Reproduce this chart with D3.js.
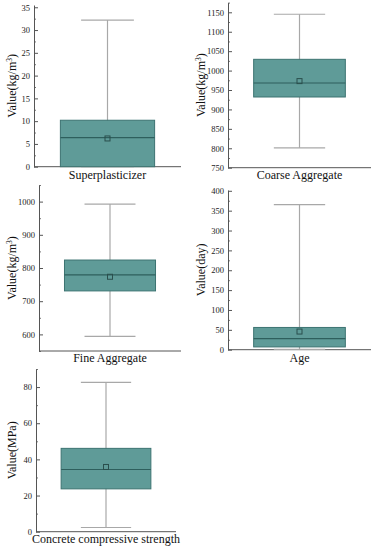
<!DOCTYPE html>
<html>
<head>
<meta charset="utf-8">
<script src="https://cdn.jsdelivr.net/npm/d3@7"></script>
<style>
  body{margin:0;background:#fff;}
  svg text{font-family:"Liberation Serif","Times New Roman",Tinos,"DejaVu Serif",serif !important;}
  .tick text{font-size:8.5px;fill:#222;}
  .catlab{font-size:12px;fill:#111;}
  .ylab{font-size:12px;fill:#111;}
</style>
</head>
<body>
<svg id="chart" width="378" height="550"></svg>
<script>
// data
var categories = ["Superplasticizer","Coarse Aggregate","Fine Aggregate","Age","Concrete compressive strength"]
var units      = ["kg/m","kg/m","kg/m","day","MPa"]
var mins       = [0, 801, 594, 1, 2.33]
var q1s        = [0, 932, 731, 7, 23.7]
var medians    = [6.4, 968, 779.5, 28, 34.4]
var q3s        = [10.2, 1029, 824, 56, 46.1]
var maxs       = [32.2, 1145, 992.6, 365, 82.6]
var means      = [6.2, 972.9, 773.6, 45.7, 35.8]
var yDomains   = [[0,35.5],[750,1175],[550,1050],[0,402],[0,90]]
var majorTicks = [[0,5,10,15,20,25,30,35],[750,800,850,900,950,1000,1050,1100,1150],[600,700,800,900,1000],[0,50,100,150,200,250,300,350,400],[0,20,40,60,80]]
var minorStep  = [2.5,25,50,25,10]

// panel frames in pixels: left, right, top, bottom of the axes
var frames = [
  {l:34, r:181, t:5,   b:166.7, ylx:16,  cy:179},
  {l:228,r:371, t:2.6, b:167.7, ylx:205, cy:179},
  {l:39, r:181, t:185, b:351,   ylx:16,  cy:362},
  {l:228,r:371, t:190, b:349.7, ylx:205, cy:362},
  {l:36, r:176, t:369, b:531.7, ylx:16,  cy:543}
]

var svg = d3.select("#chart")

for (var i=0;i<categories.length;i++){
    var f = frames[i]
    var g = svg.append("g")

    var x = d3.scaleBand().domain([categories[i]]).range([f.l,f.r]).paddingInner(0).paddingOuter(0.28)
    var y = d3.scaleLinear().domain(yDomains[i]).range([f.b,f.t])

    // minor ticks (inward)
    var dom = yDomains[i], minors = []
    for (var v=dom[0]; v<=dom[1]+1e-9; v+=minorStep[i]){
        if (majorTicks[i].indexOf(+v.toFixed(4))<0) minors.push(v)
    }
    g.append("g")
        .attr("transform","translate("+f.l+",0)")
        .call(d3.axisLeft(y).tickValues(minors).tickSize(-2).tickFormat(""))
        .call(function(a){a.select(".domain").remove(); a.selectAll("line").attr("stroke","#777")})

    var ax = g.append("g")
        .attr("transform","translate("+f.l+",0)")
        .call(d3.axisLeft(y).tickValues(majorTicks[i]).tickSize(-4).tickPadding(4).tickSizeOuter(0).tickFormat(d3.format("d")))
    ax.select(".domain").attr("stroke","#555")
    ax.selectAll(".tick line").attr("stroke","#555")

    // bottom axis line
    g.append("line")
        .attr("x1",f.l).attr("x2",f.r)
        .attr("y1",f.b).attr("y2",f.b)
        .attr("stroke","#555")

    var cx = x(categories[i]) + x.bandwidth()/2
    var bw = x.bandwidth()
    var cw = bw*0.56

    // whiskers
    g.append("line")
        .attr("x1",cx).attr("x2",cx)
        .attr("y1",y(maxs[i])).attr("y2",y(mins[i]))
        .attr("stroke","#a8a8a8").attr("stroke-width",1.2)
    ;[mins[i],maxs[i]].forEach(function(d){
        g.append("line")
            .attr("x1",cx-cw/2).attr("x2",cx+cw/2)
            .attr("y1",y(d)).attr("y2",y(d))
            .attr("stroke","#a8a8a8").attr("stroke-width",1.2)
    })

    // box
    g.append("rect")
        .attr("x",x(categories[i]))
        .attr("y",y(q3s[i]))
        .attr("width",bw)
        .attr("height",y(q1s[i])-y(q3s[i]))
        .attr("fill","#5f9b98")
        .attr("stroke","#3c7371")
        .attr("stroke-width",1)

    // median
    g.append("line")
        .attr("x1",x(categories[i])).attr("x2",x(categories[i])+bw)
        .attr("y1",y(medians[i])).attr("y2",y(medians[i]))
        .attr("stroke","#2e5f5d").attr("stroke-width",1.2)

    // mean marker
    g.append("rect")
        .attr("x",cx-2.5).attr("y",y(means[i])-2.5)
        .attr("width",5).attr("height",5)
        .attr("fill","none")
        .attr("stroke","#2a4f4d").attr("stroke-width",1)

    // category label
    g.append("text")
        .attr("class","catlab")
        .attr("x",(f.l+f.r)/2)
        .attr("y",f.cy)
        .attr("text-anchor","middle")
        .text(categories[i])

    // y label
    var yl = g.append("text")
        .attr("class","ylab")
        .attr("transform","translate("+f.ylx+","+((f.t+f.b)/2)+") rotate(-90)")
        .attr("text-anchor","middle")
    if (units[i]=="kg/m"){
        yl.append("tspan").text("Value(kg/m")
        yl.append("tspan").attr("baseline-shift","super").attr("font-size","7.5px").text("3")
        yl.append("tspan").text(")")
    } else {
        yl.text("Value("+units[i]+")")
    }
}
</script>
</body>
</html>
